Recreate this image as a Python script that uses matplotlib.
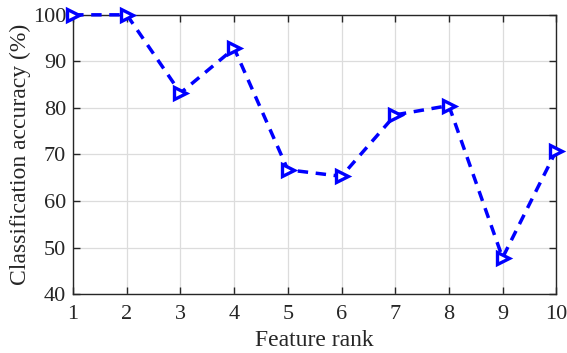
import numpy as np
import matplotlib
matplotlib.use('Agg')
import matplotlib.pyplot as plt

plt.rcParams['font.family'] = ['Liberation Serif', 'DejaVu Serif']
plt.rcParams['mathtext.fontset'] = 'stix'

# данные
feature_rank = [1, 2, 3, 4, 5, 6, 7, 8, 9, 10]
accuracy = [100, 100, 83.2, 92.8, 66.7, 65.3, 78.5, 80.5, 47.8, 70.8]
x_ticks = [1, 2, 3, 4, 5, 6, 7, 8, 9, 10]
y_ticks = [40, 50, 60, 70, 80, 90, 100]

fig = plt.figure(figsize=(5.67, 3.53), dpi=100)
ax = fig.add_axes([0.129, 0.167, 0.852, 0.791])

ax.plot(feature_rank, accuracy, color='blue', linestyle='--', linewidth=2.5,
        dashes=(3, 2.2), marker='>', markersize=8, markerfacecolor='white',
        markeredgecolor='blue', markeredgewidth=2.4, clip_on=False, zorder=3)

ax.set_xlim(1, 10)
ax.set_ylim(40, 100)
ax.set_xticks(x_ticks)
ax.set_yticks(y_ticks)
ax.grid(True, color='#dcdcdc', linewidth=0.9)
ax.set_axisbelow(True)
ax.tick_params(direction='in', top=True, right=True, labelsize=16, length=5,
               width=1, colors='#262626', pad=5)
ax.tick_params(axis='x', pad=8)
for s in ax.spines.values():
    s.set_linewidth(1.0)
    s.set_color('#262626')

ax.set_xlabel('Feature rank', fontsize=17, color='#262626', labelpad=4)
ax.set_ylabel('Classification accuracy (%)', fontsize=17, color='#262626', labelpad=1)

fig.savefig('out.png', dpi=100)
